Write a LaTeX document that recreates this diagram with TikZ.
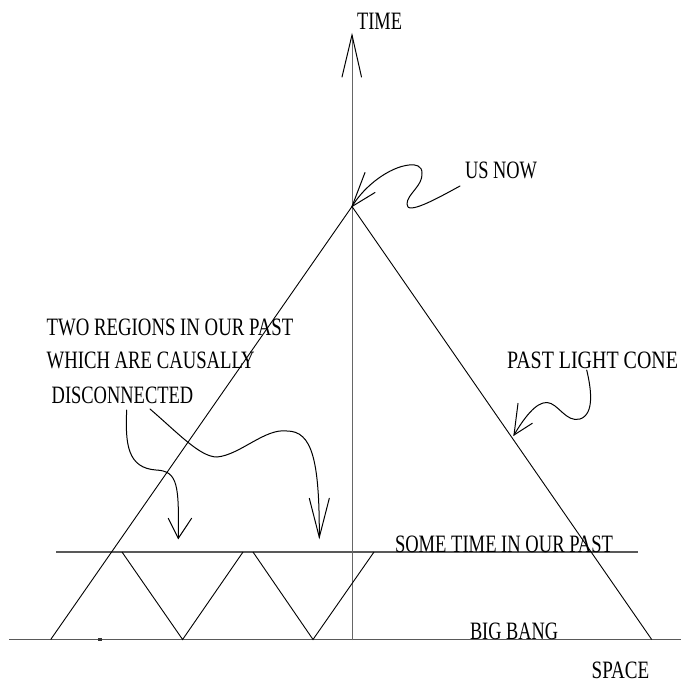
\documentclass[tikz,border=0pt]{standalone}
\usepackage{fontspec}
\setmainfont{Liberation Serif}
\usepackage{graphicx}
\newcommand{\fitw}[2]{\resizebox{#1}{\height}{#2}}
\begin{document}
\begin{tikzpicture}[x=1pt,y=-1pt,
  lbl/.style={inner sep=0pt, outer sep=0pt, font=\fontsize{25}{30}\selectfont},
  thinline/.style={line width=0.9pt, black},
  hline/.style={line width=1.4pt, black!65},
  axisline/.style={line width=1pt, black!60},
  curvy/.style={line width=1pt, black, line cap=round, line join=round},
  barb/.style={line width=1pt, black, line cap=round, line join=miter}]
\path[fill=white, use as bounding box] (0,0) rectangle (681,683);

% key points
\coordinate (apex) at (352,206.5);
\coordinate (ttop) at (352,35);
\coordinate (tbot) at (352,640);
\coordinate (lb) at (50.7,639.5);
\coordinate (rb) at (651.7,639.5);
\coordinate (bbl) at (9,639.5);
\coordinate (bbr) at (681,639.5);
\coordinate (stl) at (56,552);
\coordinate (str) at (638.3,552);
\coordinate (z1) at (122,552);
\coordinate (z2) at (182.6,639.5);
\coordinate (z3) at (243,552);
\coordinate (z4) at (253,552);
\coordinate (z5) at (313,639.5);
\coordinate (z6) at (374,552);

% horizontal lines
\draw[hline] (bbl) -- (bbr);
\draw[hline] (stl) -- (str);
\fill[black!80] (98,638) rectangle (102,641.2);

% time axis
\draw[axisline] (tbot) -- (ttop);
\draw[barb] ([shift={(-10,42)}]ttop) -- (ttop) -- ([shift={(9.5,42)}]ttop);

% light cone
\draw[thinline] (lb) -- (apex) -- (rb);

% zigzag light cones
\draw[thinline] (z1) -- (z2) -- (z3);
\draw[thinline] (z4) -- (z5) -- (z6);

% labels
\node[lbl, anchor=base west] (time) at (357,29.3) {\fitw{45pt}{TIME}};
\node[lbl, anchor=base west] (usnow) at (465,178.3) {\fitw{72pt}{US NOW}};
\node[lbl, anchor=base west] (two) at (46.7,335) {\fitw{246.6pt}{TWO REGIONS IN OUR PAST}};
\node[lbl, anchor=base west] (which) at (46.7,368.3) {\fitw{208pt}{WHICH ARE CAUSALLY}};
\node[lbl, anchor=base west] (disc) at (51.7,403.3) {\fitw{141.5pt}{DISCONNECTED}};
\node[lbl, anchor=base east] (plc) at (678,368.3) {\fitw{171pt}{PAST LIGHT CONE}};
\node[lbl, anchor=base west] (sometime) at (395,552) {\fitw{218pt}{SOME TIME IN OUR PAST}};
\node[lbl, anchor=base west] (bigbang) at (470,639.5) {\fitw{88pt}{BIG BANG}};
\node[lbl, anchor=base west] (space) at (591.7,678) {\fitw{57.6pt}{SPACE}};

% arrow start points near the labels
\coordinate (us-s) at (460,186);
\coordinate (plc-s) at (586.7,370);
\coordinate (d1-s) at (126.7,410);
\coordinate (d2-s) at (150,409);
% arrow tips
\coordinate (plc-t) at (514,435);
\coordinate (d1-t) at (178.3,538.3);
\coordinate (d2-t) at (319.3,537.3);

% US NOW arrow
\draw[curvy] (us-s) .. controls (438,198) and (406,216) .. (407,204)
  .. controls (407,194) and (423,186) .. (422,173)
  .. controls (422,166) and (416,164) .. (409,165)
  .. controls (390,167) and (365,185) .. (apex);
\draw[barb] ([shift={(13,-34)}]apex) -- (apex) -- ([shift={(23,-14)}]apex);

% PAST LIGHT CONE arrow
\draw[curvy] (plc-s) .. controls (591,388) and (595,414) .. (580,419)
  .. controls (566,423) and (558,403) .. (547,402.5)
  .. controls (536,402) and (524,418) .. (plc-t);
\draw[barb] ([shift={(4,-31.7)}]plc-t) -- (plc-t) -- ([shift={(18.3,-11.7)}]plc-t);

% disconnected region arrows
\draw[curvy] (d1-s) .. controls (125,445) and (128,468) .. (156,470)
  .. controls (178,471) and (179,485) .. (d1-t);
\draw[barb] ([shift={(-10,-20)}]d1-t) -- (d1-t) -- ([shift={(13.3,-20)}]d1-t);

\draw[curvy] (d2-s) .. controls (178,433) and (200,457) .. (217,457)
  .. controls (240,455) and (265,428) .. (287,431)
  .. controls (312,431) and (319.5,460) .. (d2-t);
\draw[barb] ([shift={(-10,-39)}]d2-t) -- (d2-t) -- ([shift={(10,-39)}]d2-t);
\end{tikzpicture}
\end{document}
